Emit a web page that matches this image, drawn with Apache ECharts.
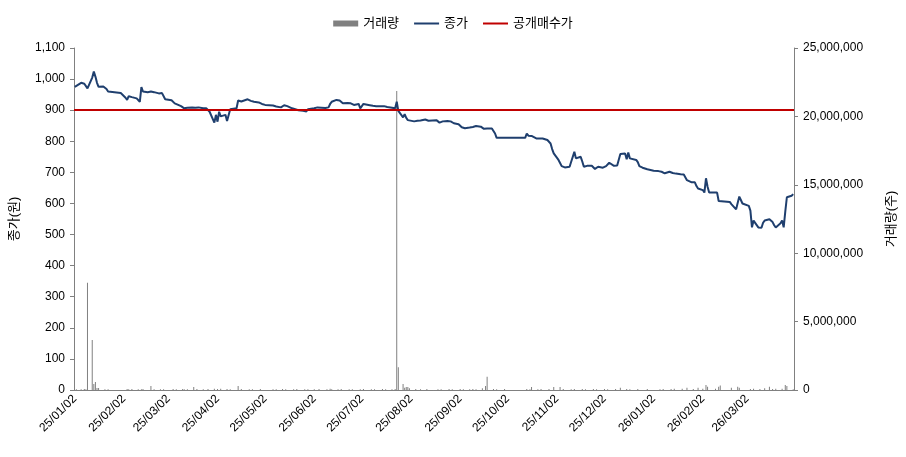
<!DOCTYPE html>
<html>
<head>
<meta charset="utf-8">
<script src="https://cdn.jsdelivr.net/npm/echarts@6/dist/echarts.min.js"></script>
<style>
html, body { margin: 0; padding: 0; background: #fff; }
#chart { width: 906px; height: 457px; }
</style>
</head>
<body>
<div id="chart"></div>
<script>
// 종가 (원)
var priceDates = [
    '25/01/02','25/01/03','25/01/06','25/01/07','25/01/08','25/01/09','25/01/10','25/01/13','25/01/14','25/01/15',
    '25/01/16','25/01/17','25/01/20','25/01/21','25/01/22','25/01/23','25/01/24','25/01/31',
    '25/02/03','25/02/04','25/02/05','25/02/06','25/02/07','25/02/10','25/02/11','25/02/12','25/02/13','25/02/14',
    '25/02/17','25/02/18','25/02/19','25/02/20','25/02/21','25/02/24','25/02/25','25/02/26','25/02/27','25/02/28',
    '25/03/04','25/03/05','25/03/06','25/03/07','25/03/10','25/03/11','25/03/12','25/03/13','25/03/14','25/03/17',
    '25/03/18','25/03/19','25/03/20','25/03/21','25/03/24','25/03/25','25/03/26','25/03/27','25/03/28','25/03/31',
    '25/04/01','25/04/02','25/04/03','25/04/04','25/04/07','25/04/08','25/04/09','25/04/10','25/04/11','25/04/14',
    '25/04/15','25/04/16','25/04/17','25/04/18','25/04/21','25/04/22','25/04/23','25/04/24','25/04/25','25/04/28',
    '25/04/29','25/04/30',
    '25/05/02','25/05/07','25/05/08','25/05/09','25/05/12','25/05/13','25/05/14','25/05/15','25/05/16','25/05/19',
    '25/05/20','25/05/21','25/05/22','25/05/23','25/05/26','25/05/27','25/05/28','25/05/29','25/05/30',
    '25/06/02','25/06/04','25/06/05','25/06/09','25/06/10','25/06/11','25/06/12','25/06/13','25/06/16','25/06/17',
    '25/06/18','25/06/19','25/06/20','25/06/23','25/06/24','25/06/25','25/06/26','25/06/27','25/06/30',
    '25/07/01','25/07/02','25/07/03','25/07/04','25/07/07','25/07/08','25/07/09','25/07/10','25/07/11','25/07/14',
    '25/07/15','25/07/16','25/07/17','25/07/18','25/07/21','25/07/22','25/07/23','25/07/24','25/07/25','25/07/28',
    '25/07/29','25/07/30','25/07/31',
    '25/08/01','25/08/04','25/08/05','25/08/06','25/08/07','25/08/08','25/08/11','25/08/12','25/08/13','25/08/14',
    '25/08/18','25/08/19','25/08/20','25/08/21','25/08/22','25/08/25','25/08/26','25/08/27','25/08/28','25/08/29',
    '25/09/01','25/09/02','25/09/03','25/09/04','25/09/05','25/09/08','25/09/09','25/09/10','25/09/11','25/09/12',
    '25/09/15','25/09/16','25/09/17','25/09/18','25/09/19','25/09/22','25/09/23','25/09/24','25/09/25','25/09/26',
    '25/09/29','25/09/30',
    '25/10/01','25/10/02','25/10/10','25/10/13','25/10/14','25/10/15','25/10/16','25/10/17','25/10/20','25/10/21',
    '25/10/22','25/10/23','25/10/24','25/10/27','25/10/28','25/10/29','25/10/30','25/10/31',
    '25/11/03','25/11/04','25/11/05','25/11/06','25/11/07','25/11/10','25/11/11','25/11/12','25/11/13','25/11/14',
    '25/11/17','25/11/18','25/11/19','25/11/20','25/11/21','25/11/24','25/11/25','25/11/26','25/11/27','25/11/28',
    '25/12/01','25/12/02','25/12/03','25/12/04','25/12/05','25/12/08','25/12/09','25/12/10','25/12/11','25/12/12',
    '25/12/15','25/12/16','25/12/17','25/12/18','25/12/19','25/12/22','25/12/23','25/12/24','25/12/26','25/12/29',
    '25/12/30',
    '26/01/02','26/01/05','26/01/06','26/01/07','26/01/08','26/01/09','26/01/12','26/01/13','26/01/14','26/01/15',
    '26/01/16','26/01/19','26/01/20','26/01/21','26/01/22','26/01/23','26/01/26','26/01/27','26/01/28','26/01/29',
    '26/01/30',
    '26/02/02','26/02/03','26/02/04','26/02/05','26/02/06','26/02/09','26/02/10','26/02/11','26/02/12','26/02/13',
    '26/02/19','26/02/20','26/02/23','26/02/24','26/02/25','26/02/26','26/02/27',
    '26/03/03','26/03/04','26/03/05','26/03/06','26/03/09','26/03/10','26/03/11','26/03/12','26/03/13','26/03/16',
    '26/03/17','26/03/18','26/03/19','26/03/20','26/03/23','26/03/24','26/03/25','26/03/26','26/03/27','26/03/30',
    '26/03/31'
];
var closePrices = [
    975, 978, 988, 992, 985, 980, 970, 1005, 1024, 1008,
    988, 975, 976, 975, 968, 960, 955, 955,
    940, 933, 945, 949, 942, 938, 932, 927, 974, 960,
    958, 957, 960, 958, 958, 954, 952, 955, 950, 935,
    932, 927, 922, 918, 913, 910, 906, 905, 908, 909,
    911, 908, 907, 909, 906, 907, 906, 900, 895, 860,
    885, 863, 895, 880, 885, 865, 870, 903, 905, 906,
    931, 927, 928, 930, 935, 933, 930, 927, 927, 925,
    922, 920,
    917, 915, 913, 912, 909, 912, 916, 920, 913, 906,
    905, 903, 902, 900, 898, 897, 896, 903, 906,
    906, 909, 906, 907, 908, 909, 920, 927, 933, 931,
    931, 925, 922, 923, 922, 922, 917, 917, 920,
    906, 906, 920, 920, 916, 915, 914, 913, 913, 913,
    912, 913, 911, 910, 908, 907, 906, 927, 898, 877,
    887, 875, 868,
    863, 864, 865, 866, 866, 867, 870, 868, 866, 863,
    868, 865, 860, 862, 864, 865, 866, 864, 860, 858,
    855, 852, 845, 841, 842, 844, 845, 846, 848, 849,
    847, 845, 840, 836, 841, 841, 841, 825, 811, 811,
    811, 811,
    811, 811, 811, 811, 825, 818, 815, 817, 809, 810,
    809, 809, 809, 804, 802, 793, 775, 761,
    740, 730, 720, 715, 716, 718, 734, 740, 766, 745,
    750, 735, 718, 720, 721, 721, 716, 711, 713, 718,
    715, 717, 720, 725, 731, 721, 718, 722, 724, 759,
    761, 742, 764, 745, 745, 740, 733, 720, 715, 710,
    706,
    705, 704, 703, 702, 700, 697, 702, 699, 698, 697,
    696, 694, 694, 693, 694, 675, 668, 668, 668, 656,
    648,
    643, 635, 681, 654, 635, 635, 638, 635, 608, 606,
    605, 598, 581, 579, 622, 611, 600,
    592, 577, 523, 545, 523, 520, 522, 538, 545, 549,
    544, 540, 530, 523, 536, 545, 523, 574, 620, 625,
    630
];

// 거래량 (주)
var volumeDates = [
    '25/01/03','25/01/06','25/01/08','25/01/09','25/01/10','25/01/13','25/01/14','25/01/15','25/01/16','25/01/17',
    '25/01/21','25/01/23','25/02/04','25/02/05','25/02/07','25/02/11','25/02/13','25/02/14','25/02/19','25/02/21',
    '25/02/25','25/02/27','25/03/05','25/03/07','25/03/11','25/03/12','25/03/14','25/03/18','25/03/20','25/03/24',
    '25/03/27','25/03/31','25/04/02','25/04/04','25/04/08','25/04/10','25/04/15','25/04/17','25/04/22','25/04/24',
    '25/04/29','25/05/07','25/05/09','25/05/13','25/05/15','25/05/20','25/05/22','25/05/27','25/05/29','25/06/02',
    '25/06/05','25/06/10','25/06/12','25/06/13','25/06/17','25/06/19','25/06/24','25/06/26','25/07/01','25/07/03',
    '25/07/08','25/07/10','25/07/15','25/07/17','25/07/21','25/07/23','25/07/24','25/07/25','25/07/28','25/07/29',
    '25/07/30','25/07/31','25/08/01','25/08/05','25/08/08','25/08/12','25/08/19','25/08/21','25/08/26','25/08/28',
    '25/09/02','25/09/04','25/09/08','25/09/10','25/09/12','25/09/16','25/09/18','25/09/19','25/09/23','25/09/25',
    '25/09/30','25/10/14','25/10/16','25/10/17','25/10/21','25/10/23','25/10/28','25/10/31','25/11/04','25/11/06',
    '25/11/11','25/11/13','25/11/18','25/11/20','25/11/25','25/11/27','25/12/02','25/12/04','25/12/09','25/12/12',
    '25/12/16','25/12/18','25/12/23','25/12/29','26/01/06','26/01/08','26/01/13','26/01/15','26/01/20','26/01/23',
    '26/01/27','26/01/30','26/02/02','26/02/04','26/02/05','26/02/10','26/02/12','26/02/13','26/02/20','26/02/24',
    '26/02/25','26/03/04','26/03/06','26/03/10','26/03/13','26/03/16','26/03/18','26/03/20','26/03/24','26/03/26',
    '26/03/27','26/03/31'
];
var volumes = [
    60000, 50000, 70000, 60000, 7840000, 3650000, 440000, 580000, 150000, 150000,
    50000, 60000, 70000, 60000, 80000, 50000, 60000, 70000, 290000, 60000,
    50000, 60000, 70000, 60000, 80000, 60000, 50000, 220000, 70000, 60000,
    80000, 100000, 70000, 90000, 80000, 60000, 290000, 70000, 50000, 60000,
    70000, 60000, 50000, 80000, 60000, 50000, 70000, 60000, 50000, 60000,
    70000, 60000, 90000, 60000, 50000, 70000, 60000, 50000, 60000, 70000,
    50000, 60000, 70000, 50000, 60000, 80000, 21860000, 1660000, 440000, 170000,
    220000, 220000, 120000, 70000, 60000, 80000, 60000, 50000, 70000, 60000,
    70000, 60000, 50000, 80000, 60000, 120000, 290000, 970000, 80000, 60000,
    70000, 80000, 60000, 220000, 60000, 70000, 80000, 220000, 220000, 70000,
    60000, 80000, 70000, 60000, 80000, 60000, 70000, 60000, 80000, 170000,
    70000, 60000, 80000, 70000, 60000, 80000, 70000, 90000, 100000, 170000,
    80000, 170000, 100000, 370000, 240000, 90000, 240000, 320000, 170000, 240000,
    170000, 80000, 90000, 70000, 120000, 240000, 80000, 90000, 100000, 370000,
    290000, 60000
];

var tenderPrice = 900;   // 공개매수가

// 달력 날짜 축 (25/01/02 ~ 26/03/31)
var categories = [];
var d = new Date(2025, 0, 2);
var end = new Date(2026, 2, 31);
function pad(n) { return n < 10 ? '0' + n : '' + n; }
while (d <= end) {
    categories.push(pad(d.getFullYear() % 100) + '/' + pad(d.getMonth() + 1) + '/' + pad(d.getDate()));
    d.setDate(d.getDate() + 1);
}

var priceData = categories.map(function () { return null; });
var volumeData = categories.map(function () { return null; });
priceDates.forEach(function (dt, i) { priceData[categories.indexOf(dt)] = closePrices[i]; });
volumeDates.forEach(function (dt, i) { volumeData[categories.indexOf(dt)] = volumes[i]; });

function isLabelDay(index, value) {
    return value.slice(6) === '02';
}

var font = "'Liberation Sans', 'Noto Sans CJK KR', sans-serif";
var lineIcon = 'path://M0,0H25V2H0Z';
var chart = echarts.init(document.getElementById('chart'));

var option = {
    animation: false,
    textStyle: { fontFamily: font },
    legend: {
        top: 12,
        left: 'center',
        itemWidth: 25,
        itemHeight: 6,
        itemGap: 15,
        symbolKeepAspect: true,
        textStyle: { fontSize: 13, color: '#000', fontFamily: font },
        data: [
            { name: '거래량', icon: 'rect' },
            { name: '종가', icon: lineIcon },
            { name: '공개매수가', icon: lineIcon }
        ]
    },
    grid: {
        left: 72,
        right: 108,
        top: 48,
        bottom: 67
    },
    xAxis: {
        type: 'category',
        data: categories,
        boundaryGap: true,
        axisLine: { lineStyle: { color: '#808080', width: 1 } },
        axisTick: {
            interval: isLabelDay,
            alignWithLabel: false,
            length: 4,
            lineStyle: { color: '#808080' }
        },
        axisLabel: {
            interval: isLabelDay,
            rotate: 45,
            margin: 7,
            fontSize: 12,
            color: '#000',
            fontFamily: font
        },
        splitLine: { show: false }
    },
    yAxis: [
        {
            type: 'value',
            name: '종가(원)',
            nameLocation: 'middle',
            nameGap: 53,
            nameTextStyle: { fontSize: 13, color: '#000', fontFamily: font },
            min: 0,
            max: 1100,
            interval: 100,
            axisLine: { show: true, lineStyle: { color: '#808080' } },
            axisTick: { show: true, length: 4, lineStyle: { color: '#808080' } },
            axisLabel: {
                fontSize: 12,
                color: '#000',
                margin: 9,
                fontFamily: font,
                formatter: function (v) { return v.toLocaleString('en-US'); }
            },
            splitLine: { show: false }
        },
        {
            type: 'value',
            name: '거래량(주)',
            nameLocation: 'middle',
            nameGap: 91,
            nameTextStyle: { fontSize: 13, color: '#000', fontFamily: font },
            min: 0,
            max: 25000000,
            interval: 5000000,
            axisLine: { show: true, lineStyle: { color: '#808080' } },
            axisTick: { show: true, length: 4, lineStyle: { color: '#808080' } },
            axisLabel: {
                fontSize: 12,
                color: '#000',
                margin: 9,
                fontFamily: font,
                formatter: function (v) { return v.toLocaleString('en-US'); }
            },
            splitLine: { show: false }
        }
    ],
    series: [
        {
            name: '거래량',
            type: 'bar',
            yAxisIndex: 1,
            barWidth: 1,
            itemStyle: { color: '#808080' },
            data: volumeData
        },
        {
            name: '종가',
            type: 'line',
            yAxisIndex: 0,
            symbol: 'none',
            connectNulls: true,
            itemStyle: { color: '#1F3F6E' },
            lineStyle: { color: '#1F3F6E', width: 2 },
            data: priceData,
            z: 3
        },
        {
            name: '공개매수가',
            type: 'line',
            yAxisIndex: 0,
            symbol: 'none',
            itemStyle: { color: '#C00000' },
            lineStyle: { color: '#C00000', width: 2 },
            data: [],
            markLine: {
                silent: true,
                symbol: 'none',
                label: { show: false },
                lineStyle: { color: '#C00000', width: 2, type: 'solid' },
                data: [{ yAxis: tenderPrice }]
            },
            z: 4
        }
    ]
};
chart.setOption(option);
</script>
</body>
</html>
